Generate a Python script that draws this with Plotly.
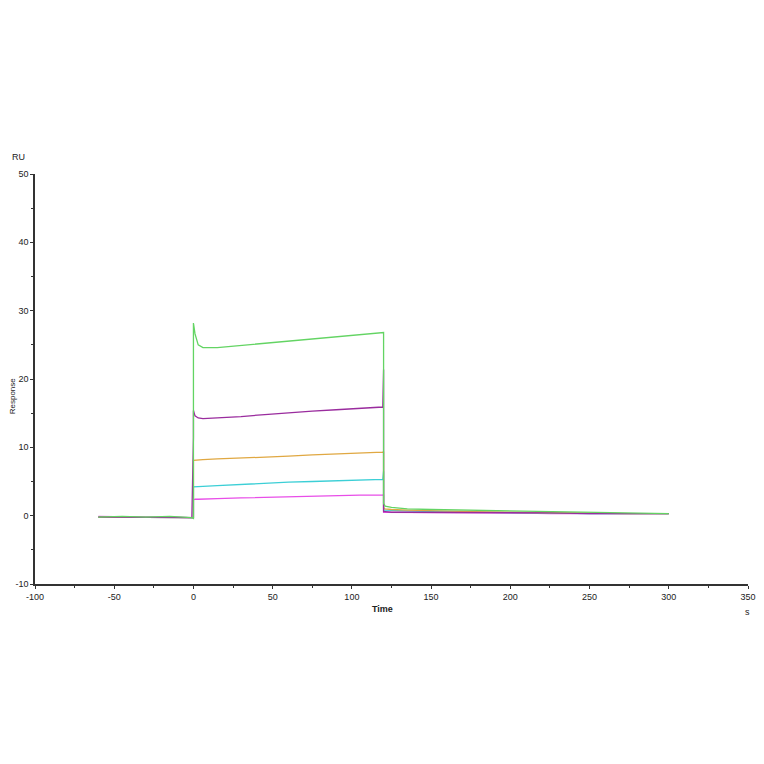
import plotly.graph_objects as go

# sensorgram sample times (s); repeated times give the vertical injection steps
time = [-60, -45, -30, -15, -1, 0, 0, 1, 3, 6, 15, 30, 45, 60, 75, 90, 105, 119.5, 120, 120,
        121, 125, 135, 150, 175, 200, 225, 250, 275, 300]

green = [-0.2, -0.1, -0.2, -0.1, -0.3, -0.4, 28.2, 26.6, 25.0, 24.6, 24.6, 24.9, 25.2, 25.5, 25.8,
         26.1, 26.4, 26.7, 26.8, 1.8, 1.4, 1.2, 1.0, 0.9, 0.8, 0.6, 0.5, 0.4, 0.3, 0.3]
purple = [-0.2, -0.2, -0.3, -0.2, -0.3, 11.4, 15.4, 14.6, 14.3, 14.2, 14.3, 14.5, 14.8, 15.1, 15.3,
          15.5, 15.7, 15.9, 21.4, 0.6, 0.6, 0.5, 0.5, 0.5, 0.4, 0.4, 0.4, 0.3, 0.3, 0.3]
orange = [-0.2, -0.2, -0.2, -0.2, -0.3, -0.3, 8.1, 8.1, 8.1, 8.2, 8.3, 8.4, 8.6, 8.7, 8.9,
          9.0, 9.1, 9.3, 9.4, 1.1, 1.0, 0.9, 0.8, 0.7, 0.6, 0.5, 0.4, 0.4, 0.3, 0.3]
cyan = [-0.2, -0.2, -0.2, -0.2, -0.3, -0.3, 4.2, 4.2, 4.3, 4.3, 4.4, 4.6, 4.7, 4.9, 5.0,
        5.1, 5.2, 5.3, 6.5, 0.8, 0.8, 0.8, 0.7, 0.6, 0.5, 0.5, 0.4, 0.3, 0.3, 0.3]
magenta = [-0.1, -0.2, -0.2, -0.2, -0.3, -0.3, 2.3, 2.4, 2.4, 2.4, 2.5, 2.6, 2.7, 2.8, 2.9,
           2.9, 3.0, 3.0, 3.1, 0.5, 0.5, 0.5, 0.5, 0.4, 0.4, 0.4, 0.3, 0.3, 0.3, 0.3]

x_ticks = [-100, -50, 0, 50, 100, 150, 200, 250, 300, 350]
y_ticks = [-10, 0, 10, 20, 30, 40, 50]

series = [
    ("magenta", magenta, "#e84ee8"),
    ("cyan", cyan, "#3ccfd6"),
    ("orange", orange, "#e0a842"),
    ("purple", purple, "#9a2c9e"),
    ("green", green, "#63d463"),
]

fig = go.Figure()
for name, vals, col in series:
    fig.add_trace(go.Scatter(x=time, y=vals, mode="lines", name=name,
                             line=dict(color=col, width=1.3), showlegend=False))

axis_font = dict(family="Liberation Sans, Arial", size=9, color="#222")

# page body adds an 8px margin, so the figure is sized/margined to compensate
fig.update_layout(
    width=748, height=748,
    paper_bgcolor="white", plot_bgcolor="white",
    margin=dict(l=27, r=8, t=166, b=172),
    xaxis=dict(range=[-100, 350], tickvals=x_ticks, ticktext=[str(v) for v in x_ticks],
               showgrid=False, zeroline=False, automargin=False,
               showline=True, linecolor="#333", linewidth=1.5,
               ticks="outside", ticklen=3, tickcolor="#333", tickfont=axis_font,
               minor=dict(tickvals=[-75, -25, 25, 75, 125, 175, 225, 275, 325],
                          ticks="outside", ticklen=2, tickcolor="#333")),
    yaxis=dict(range=[-10, 50], tickvals=y_ticks, ticktext=[str(v) for v in y_ticks],
               showgrid=False, zeroline=False, automargin=False,
               showline=True, linecolor="#333", linewidth=1.5,
               ticks="outside", ticklen=3, tickcolor="#333", tickfont=axis_font,
               minor=dict(tickvals=[-5, 5, 15, 25, 35, 45],
                          ticks="outside", ticklen=2, tickcolor="#333")),
    annotations=[
        dict(text="RU", xref="paper", yref="paper", x=-0.035, y=1.025, showarrow=False,
             xanchor="left", yanchor="bottom", font=axis_font),
        dict(text="Response", xref="paper", yref="paper", x=-0.031, y=0.46, showarrow=False,
             textangle=-90, xanchor="center", font=dict(family="Liberation Sans, Arial", size=8, color="#222")),
        dict(text="<b>Time</b>", xref="paper", yref="paper", x=0.487, y=-0.045, showarrow=False,
             yanchor="top", font=dict(family="Liberation Sans, Arial", size=9, color="#222")),
        dict(text="s", xref="paper", yref="paper", x=1.005, y=-0.05, showarrow=False,
             yanchor="top", font=axis_font),
    ],
)

fig.write_html("out.html")
